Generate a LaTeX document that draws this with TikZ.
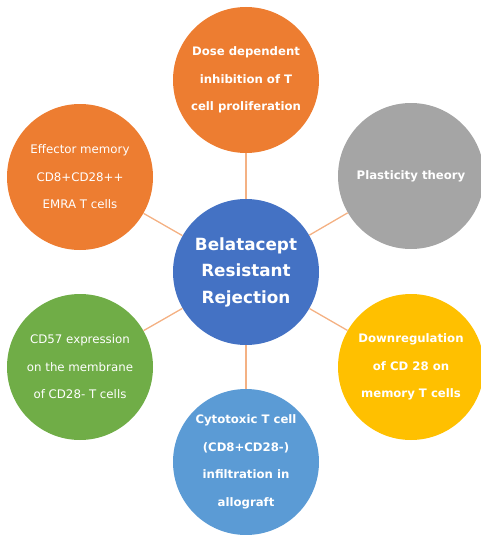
\documentclass[tikz,border=0pt]{standalone}
\usepackage{fontspec}
\setmainfont{DejaVu Sans}
\definecolor{accorange}{HTML}{ED7D31}
\definecolor{accgrey}{HTML}{A5A5A5}
\definecolor{accgold}{HTML}{FFC000}
\definecolor{accblue}{HTML}{4472C4}
\definecolor{acclight}{HTML}{5B9BD5}
\definecolor{accgreen}{HTML}{70AD47}
\definecolor{linkorange}{HTML}{F4B183}
\begin{document}
\begin{tikzpicture}[x=1pt,y=-1pt,
    bubble/.style={circle,minimum size=146pt,inner sep=0pt,text=white,align=center,
      font=\fontsize{11.8}{27.5}\selectfont},
    boldtext/.style={font=\fontsize{11.7}{27.5}\selectfont\bfseries},
    link/.style={draw=linkorange,line width=1.3pt}]
\useasboundingbox (0,0) rectangle (480,535);
% centre
\node[bubble,fill=accblue,font=\fontsize{16.8}{26.5}\selectfont\bfseries] (c0) at (246,272) {Belatacept\\Resistant\\Rejection};
% outer ring
\node[bubble,boldtext,fill=accorange] (c1) at (246,80) {Dose dependent\\inhibition of T\\cell proliferation};
\node[bubble,boldtext,fill=accgrey] (c2) at (411,176) {Plasticity theory};
\node[bubble,boldtext,fill=accgold] (c3) at (411,367) {Downregulation\\of CD 28 on\\memory T cells};
\node[bubble,boldtext,fill=acclight] (c4) at (246,462) {Cytotoxic T cell\\(CD8+CD28-)\\infiltration in\\allograft};
\node[bubble,fill=accgreen] (c5) at (80,367) {CD57 expression\\on the membrane\\of CD28- T cells};
\node[bubble,fill=accorange] (c6) at (80,177) {Effector memory\\CD8+CD28++\\EMRA T cells};
% links
\draw[link] (c0) -- (c1);
\draw[link] (c0) -- (c2);
\draw[link] (c0) -- (c3);
\draw[link] (c0) -- (c4);
\draw[link] (c0) -- (c5);
\draw[link] (c0) -- (c6);
\end{tikzpicture}
\end{document}
